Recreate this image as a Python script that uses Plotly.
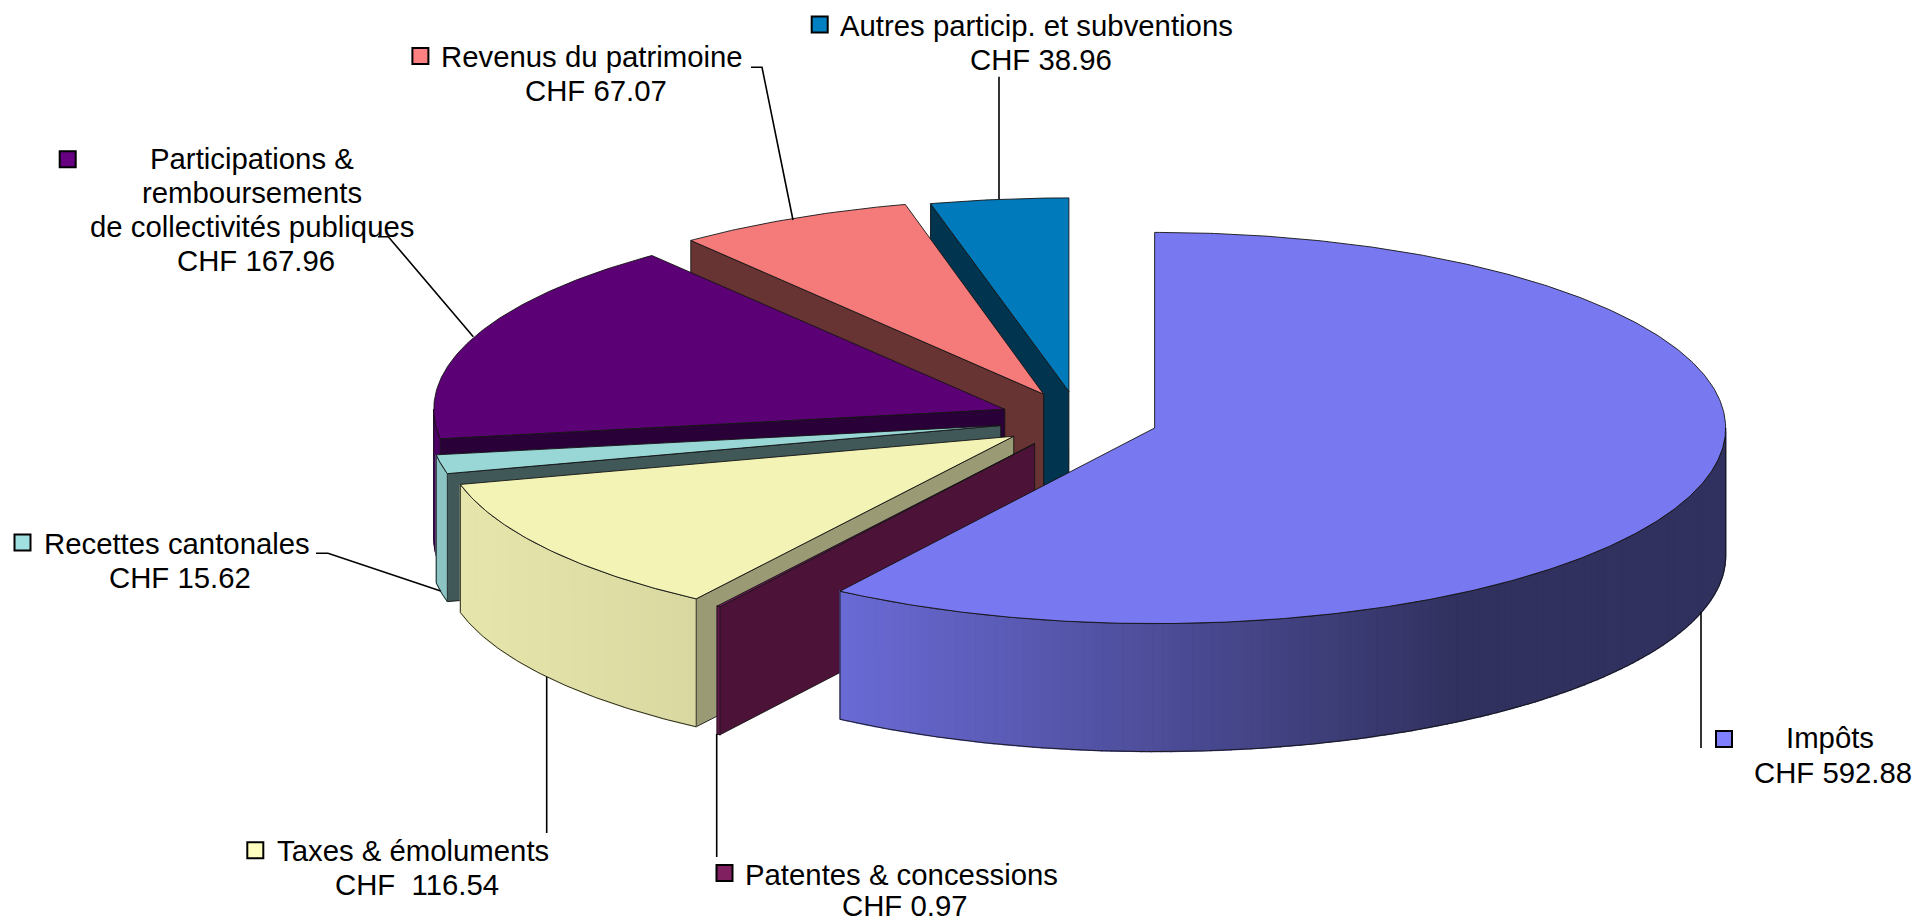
import math
import plotly.graph_objects as go

# ---- data ----
categories = ["Impôts", "Patentes & concessions", "Taxes & émoluments", "Recettes cantonales",
              "Participations & remboursements de collectivités publiques",
              "Revenus du patrimoine", "Autres particip. et subventions"]
values = [592.88, 0.97, 116.54, 15.62, 167.96, 67.07, 38.96]
label_lines = [
    ["Impôts", "CHF 592.88"],
    ["Patentes & concessions", "CHF 0.97"],
    ["Taxes & émoluments", "CHF  116.54"],
    ["Recettes cantonales", "CHF 15.62"],
    ["Participations &", "remboursements", "de collectivités publiques", "CHF 167.96"],
    ["Revenus du patrimoine", "CHF 67.07"],
    ["Autres particip. et subventions", "CHF 38.96"],
]

# ---- styles ----
top_colors = ["#7878F0", "#7A1C60", "#F3F3B5", "#99D6D6", "#5C0075", "#F57A7A", "#007ABA"]
key_colors = ["#8080FF", "#802060", "#FFFFC0", "#A0E0E0", "#660080", "#FF8080", "#0080C0"]
wall_colors = ["#3A3A78", "#4D1238", "#9A9A74", "#405858", "#2A0038", "#683333", "#00344F"]
rim_left = ["#6A6AD6", "#6A1850", "#E6E6AC", "#8CC4C4", "#4E0064", "#C06060", "#006090"]
rim_right = ["#31315F", "#6A1850", "#D8D8A0", "#8CC4C4", "#4E0064", "#C06060", "#006090"]
rim_grad_x = [(840, 1460), (0, 1), (458, 700), (0, 1), (0, 1), (0, 1), (0, 1)]
EDGE = "#141414"

# ---- geometry of the projected pie (pixels) ----
W, H = 1916, 922
CX, CY, RX = 1078.6, 419.8, 571.0
RY = [195.6, 195.6, 195.6, 195.6, 195.6, 195.6, 193.6]
EXPLODE_X, EXPLODE_Y, DEPTH = 79.4, 28.5, 128.0

# ---- label placement: centre x and baseline of every line, key centre ----
label_x = [[1830, 1833], [901, 905], [413.2, 417], [176.5, 180],
           [252, 252, 252, 255.7], [592, 596], [1036, 1041]]
label_base = [[748, 782.5], [884.5, 915.5], [861, 895], [553.3, 587.7],
              [168.7, 202.7, 236.7, 270.7], [66.7, 101], [35.7, 69.3]]
key_xy = [(1724, 739), (724.5, 873), (255.3, 850.3), (22.5, 542.6), (67.7, 159.3), (420.4, 56), (819.7, 24.4)]
FONT_PX = 29.33
leaders = [
    [(1701, 612), (1701, 748)],
    [(716.7, 734), (716.7, 857)],
    [(546.7, 677), (546.7, 833)],
    [(316, 553.3), (328, 553.3), (440.7, 591)],
    [(378, 236.7), (388.3, 236.7), (473.3, 336.7)],
    [(751, 67.3), (762, 67.3), (793, 220)],
    [(999, 76.7), (999, 199)],
]


def hex_mix(a, b, t):
    t = max(0.0, min(1.0, t))
    ca = [int(a[i:i + 2], 16) for i in (1, 3, 5)]
    cb = [int(b[i:i + 2], 16) for i in (1, 3, 5)]
    return "#" + "".join(f"{round(p + (q - p) * t):02x}" for p, q in zip(ca, cb))


total = sum(values)
angles = [0.0]
for v in values:
    angles.append(angles[-1] + v / total * 360.0)


def apex(i):
    mid = math.radians((angles[i] + angles[i + 1]) / 2)
    return CX + EXPLODE_X * math.sin(mid), CY - EXPLODE_Y * math.cos(mid)


def rim_pt(i, deg, drop=0.0):
    ax, ay = apex(i)
    t = math.radians(deg)
    return ax + RX * math.sin(t), ay - RY[i] * math.cos(t) + drop


def arc(i, a0, a1, drop=0.0, step=0.5):
    n = max(2, int(abs(a1 - a0) / step) + 1)
    return [rim_pt(i, a0 + (a1 - a0) * k / (n - 1), drop) for k in range(n)]


fig = go.Figure()


def poly(pts, fill=None, line=None, width=0.9, close=True):
    xs = [p[0] for p in pts]
    ys = [p[1] for p in pts]
    if close:
        xs.append(xs[0])
        ys.append(ys[0])
    fig.add_trace(go.Scatter(
        x=xs, y=ys, mode="lines", hoverinfo="skip", showlegend=False,
        fill="toself" if fill else None, fillcolor=fill,
        line=dict(color=line or fill, width=width if line else 1.3),
    ))


# back-to-front painting order
order = [6, 5, 4, 3, 2, 1, 0]
for i in order:
    a0, a1 = angles[i], angles[i + 1]
    ax, ay = apex(i)
    # visible radial wall: the one on the slice's starting edge
    s = rim_pt(i, a0)
    if 180 < a0 < 360 or i == 1:
        poly([(ax, ay), s, (s[0], s[1] + DEPTH), (ax, ay + DEPTH)], wall_colors[i], EDGE)
    # visible outer wall: lower half of the ellipse only
    r0, r1 = max(a0, 90.0), min(a1, 270.0)
    if r1 > r0:
        n = max(1, int((r1 - r0) / 1.0))
        g0, g1 = rim_grad_x[i]
        for k in range(n):
            b0 = r0 + (r1 - r0) * k / n
            b1 = r0 + (r1 - r0) * (k + 1) / n
            seg = arc(i, b0, b1) + arc(i, b1, b0, DEPTH)
            xm = sum(p[0] for p in seg) / len(seg)
            poly(seg, hex_mix(rim_left[i], rim_right[i], (xm - g0) / (g1 - g0)))
        poly(arc(i, r0, r1) + arc(i, r1, r0, DEPTH), None, EDGE)
    # top face
    poly([(ax, ay)] + arc(i, a0, a1), top_colors[i], EDGE)

# leader lines
for pts in leaders:
    poly(pts, None, "#000000", 1.6, close=False)

# legend keys inside the data labels
fig.add_trace(go.Scatter(
    x=[p[0] for p in key_xy], y=[p[1] for p in key_xy], mode="markers",
    hoverinfo="skip", showlegend=False,
    marker=dict(symbol="square", size=16, color=key_colors, line=dict(color="#000000", width=2)),
))

# labels
for i, lines in enumerate(label_lines):
    for j, txt in enumerate(lines):
        fig.add_annotation(
            x=label_x[i][j], y=label_base[i][j] - FONT_PX * 0.3465, text=txt.replace("  ", "\u00a0 "),
            showarrow=False, xanchor="center", yanchor="middle", borderpad=0,
            font=dict(family="Liberation Sans, Arial, sans-serif", size=FONT_PX, color="#000000"),
        )

fig.update_layout(
    width=W, height=H, margin=dict(l=0, r=0, t=0, b=0),
    paper_bgcolor="#FFFFFF", plot_bgcolor="#FFFFFF", showlegend=False,
    xaxis=dict(range=[0, W], visible=False, fixedrange=True),
    yaxis=dict(range=[H, 0], visible=False, fixedrange=True),
)
fig.write_html("out.html", post_script="document.body.style.margin='0';document.documentElement.style.overflow='hidden';",
               config={"displayModeBar": False})
